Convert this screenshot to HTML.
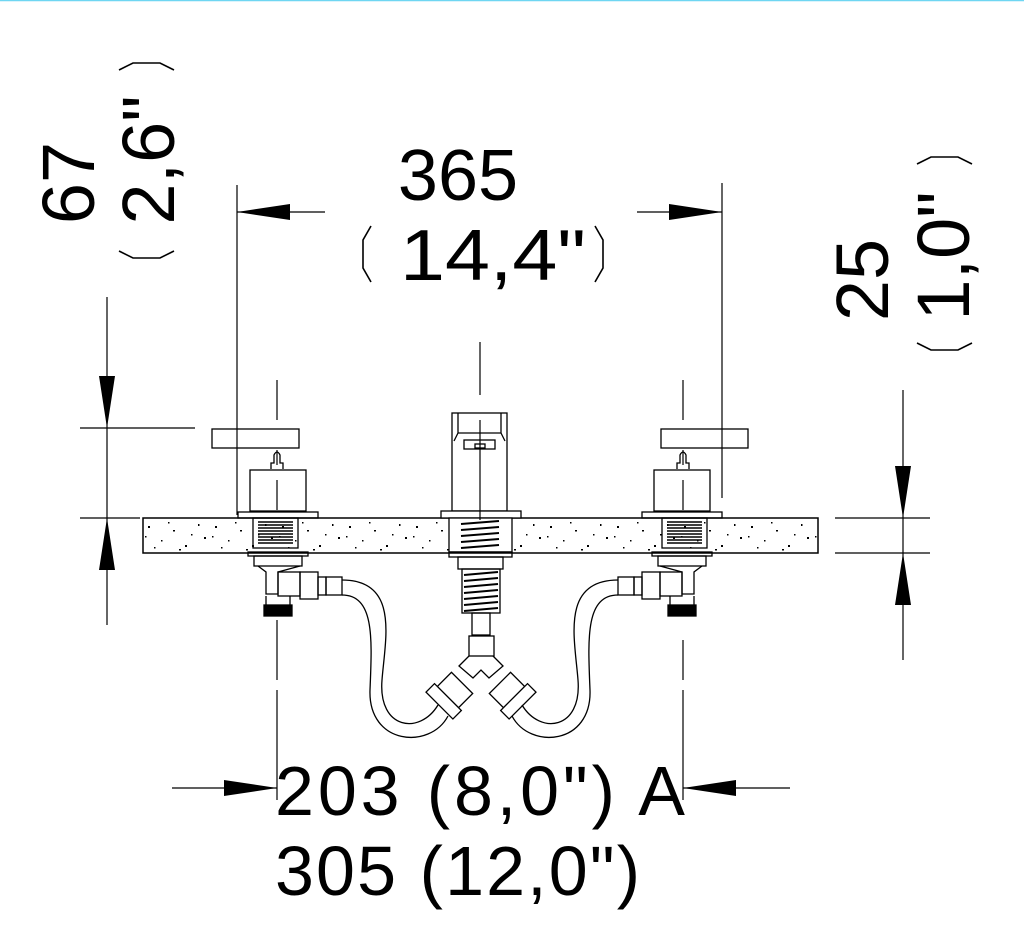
<!DOCTYPE html>
<html><head><meta charset="utf-8"><style>
html,body{margin:0;padding:0;background:#fff;}
svg{display:block}
text{font-family:"Liberation Sans",sans-serif;fill:#000}
</style></head><body>
<svg width="1024" height="945" viewBox="0 0 1024 945" xmlns="http://www.w3.org/2000/svg">
<defs>
<pattern id="sp" width="67" height="35" patternUnits="userSpaceOnUse" x="143" y="518">
<g fill="#000">
<rect x="5" y="8" width="2" height="2"/><rect x="18" y="22" width="1.5" height="1.5"/><rect x="30" y="12" width="2" height="1.5"/>
<rect x="42" y="27" width="2" height="2"/><rect x="55" y="6" width="1.5" height="2"/><rect x="61" y="19" width="2" height="2"/>
<rect x="11" y="29" width="1.5" height="1.5"/><rect x="25" y="4" width="1.5" height="1.5"/><rect x="48" y="16" width="1.5" height="1.5"/>
<rect x="36" y="31" width="2" height="1.5"/><rect x="2" y="18" width="1.5" height="1.5"/>
</g></pattern>
<g id="valve" fill="none" stroke="#000" stroke-width="1.3">
<rect x="212" y="429" width="87" height="19"/>
<path d="M271 469 v-6 h3 v-8 q3-6 6 0 v8 h3 v6"/>
<rect x="250" y="470" width="56" height="41"/>
<rect x="238" y="512" width="80" height="6"/>
<rect x="253" y="518" width="45" height="30"/>
<g stroke-width="1.6"><path d="M258 522h35M258 525h35M258 528h35M258 531h35M258 534h35M258 537h35M258 540h35M258 543h35"/></g>
<rect x="248" y="552" width="60" height="4"/>
<rect x="254" y="556" width="48" height="10"/>
<path d="M258 566 l8 6 v22 h12 v-22 l22 -6"/>
<rect x="278" y="572" width="22" height="24"/>
<rect x="300" y="572" width="18" height="27"/>
<rect x="318" y="577" width="8" height="18"/>
<rect x="326" y="577" width="16" height="18"/>
<rect x="264" y="605" width="28" height="11" fill="#000"/>
<path d="M266 596 v9 M290 596 v9"/>
</g>
</defs>
<line x1="0" y1="0.5" x2="1024" y2="0.5" stroke="#6fd6f2" stroke-width="1.5"/>

<rect x="143" y="518" width="675" height="35" fill="url(#sp)" stroke="#000" stroke-width="1.5"/>

<use href="#valve"/>
<use href="#valve" transform="translate(960,0) scale(-1,1)"/>

<g fill="none" stroke="#000" stroke-width="1.3">
<rect x="452" y="413" width="55" height="98" fill="#fff"/>
<path d="M458 413 v20 l-4 8 M501 413 v20 l4 8 M458 433 h43"/>
<rect x="464" y="440" width="31" height="9"/>
<rect x="475" y="444" width="10" height="4"/>
<rect x="441" y="511" width="80" height="7" fill="#fff"/>
<rect x="449" y="518" width="63" height="34" fill="#fff"/>
<path d="M461 524l38-3M461 530l38-3M461 536l38-3M461 542l38-3M461 548l38-3" stroke-width="2"/>
<rect x="449" y="552" width="63" height="5"/>
<rect x="458" y="557" width="45" height="12"/>
<rect x="462" y="569" width="38" height="44"/>
<path d="M464 575l34-3M464 581l34-3M464 587l34-3M464 593l34-3M464 599l34-3M464 605l34-3M464 611l34-3" stroke-width="2"/>
<rect x="472" y="613" width="18" height="22"/>
<rect x="469" y="636" width="25" height="20"/>
<path d="M469 656 l-10 10 l14 12 l8 -8 l8 8 l14 -12 l-10 -10"/>
<g transform="rotate(45 455 690)"><rect x="440" y="680" width="30" height="20" fill="#fff"/><rect x="436" y="700" width="38" height="12" fill="#fff"/></g>
<g transform="rotate(-45 507 690)"><rect x="492" y="680" width="30" height="20" fill="#fff"/><rect x="488" y="700" width="38" height="12" fill="#fff"/></g>
<path d="M342 580 C 400 580, 385 640, 382 680 C 378 730, 420 735, 438 705"/>
<path d="M342 595 C 375 595, 372 640, 370 690 C 368 745, 430 750, 448 716"/>
<path d="M618 580 C 560 580, 575 640, 578 680 C 582 730, 540 735, 522 705"/>
<path d="M618 595 C 585 595, 588 640, 590 690 C 592 745, 530 750, 512 716"/>
</g>

<g stroke="#000" stroke-width="1.2" fill="none">
<path d="M277 380 v40 M277 450 v15 M277 480 v30 M277 620 v60 M277 690 v110"/>
<path d="M683 380 v40 M683 450 v15 M683 480 v30 M683 640 v40 M683 690 v110"/>
<path d="M480 342 v53 M480 420 v100"/>
<path d="M237 185 V515 M722 183 V498"/>
<path d="M80 428 H195 M80 518 H140"/>
<path d="M835 518 H930 M835 553 H930"/>
<path d="M107 297 V625 M903 390 V660"/>
<path d="M237 212 H325 M637 212 H722"/>
<path d="M172 788 H277 M683 788 H790"/>
</g>
<g fill="#000">
<polygon points="237,212 290,204 290,220"/>
<polygon points="722,212 669,204 669,220"/>
<polygon points="107,428 99,376 115,376"/>
<polygon points="107,518 99,570 115,570"/>
<polygon points="903,518 895,466 911,466"/>
<polygon points="903,553 895,605 911,605"/>
<polygon points="277,788 224,780 224,796"/>
<polygon points="683,788 736,780 736,796"/>
</g>

<g stroke="#000" stroke-width="1.6" fill="none">
<path d="M371 226 L363 240 V268 L371 282"/>
<path d="M595 226 L603 240 V268 L595 282"/>
<path d="M119 70 L133 63 H160 L174 70"/>
<path d="M119 251 L133 258 H160 L174 251"/>
<path d="M917 164 L931 157 H958 L972 164"/>
<path d="M917 343 L931 350 H958 L972 343"/>
</g>

<text x="458" y="200" font-size="72" text-anchor="middle">365</text>
<text x="400" y="280" font-size="72" textLength="186" lengthAdjust="spacingAndGlyphs">14,4"</text>
<text transform="translate(94,183) rotate(-90)" font-size="74" text-anchor="middle">67</text>
<text transform="translate(174,160) rotate(-90)" font-size="74" text-anchor="middle">2,6"</text>
<text transform="translate(888,280) rotate(-90)" font-size="74" text-anchor="middle">25</text>
<text transform="translate(969,256) rotate(-90)" font-size="74" text-anchor="middle">1,0"</text>
<text x="275" y="815" font-size="70" textLength="410" lengthAdjust="spacing">203  (8,0") A</text>
<text x="275" y="895" font-size="70" textLength="365" lengthAdjust="spacing">305 (12,0")</text>
</svg>
</body></html>
